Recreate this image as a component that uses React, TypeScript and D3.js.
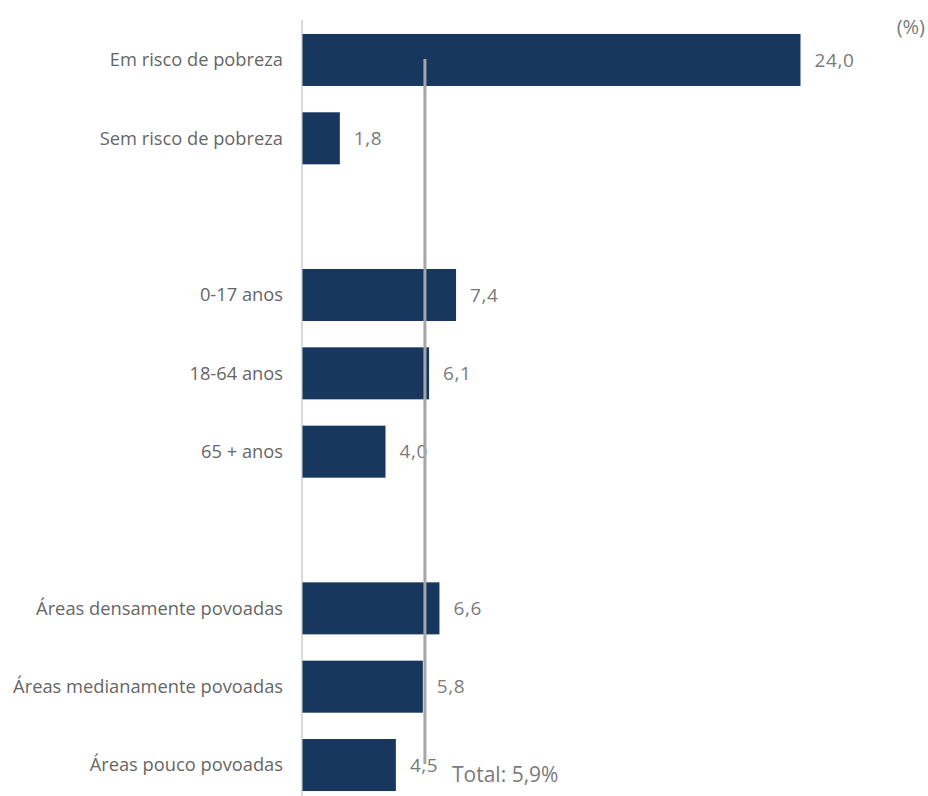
import React from "react";
import * as d3 from "d3";

const categories: string[] = [
  "Em risco de pobreza",
  "Sem risco de pobreza",
  "",
  "0-17 anos",
  "18-64 anos",
  "65 + anos",
  " ",
  "Áreas densamente povoadas",
  "Áreas medianamente povoadas",
  "Áreas pouco povoadas",
];
const values: (number | null)[] = [24.0, 1.8, null, 7.4, 6.1, 4.0, null, 6.6, 5.8, 4.5];
const totalValue = 5.9;
const unitLabel = "(%)";

const W = 928;
const H = 796;
const FONT = "'Open Sans', Lato, sans-serif";

const fmt = (v: number) => v.toFixed(1).replace(".", ",");

export default function App() {
  const x = d3.scaleLinear().domain([0, 24]).range([302.5, 800.5]);
  const keys = categories.map((c, i) => `${i}`);
  const y = d3
    .scaleBand<string>()
    .domain(keys)
    .range([20.8, 804.2])
    .paddingInner(0.336)
    .paddingOuter(0.168);
  const bh = y.bandwidth();
  const xt = x(totalValue);

  return (
    <svg
      width={W}
      height={H}
      style={{ position: "absolute", left: 0, top: 0, display: "block" }}
      fontFamily={FONT}
    >
      <rect width={W} height={H} fill="#fff" />
      <line x1={302} x2={302} y1={20} y2={796} stroke="#d9d9d9" strokeWidth={2} />
      {values.map((v, i) =>
        v == null ? null : (
          <rect
            key={"b" + i}
            x={x(0)}
            y={y(keys[i])!}
            width={x(v) - x(0)}
            height={bh}
            fill="#17375e"
          />
        )
      )}
      {categories.map((c, i) =>
        values[i] == null ? null : (
          <text
            key={"c" + i}
            x={283}
            y={y(keys[i])! + bh / 2}
            dy="0.35em"
            textAnchor="end"
            fontSize={18.3}
            fill="#666"
          >
            {c}
          </text>
        )
      )}
      {values.map((v, i) =>
        v == null ? null : (
          <text
            key={"v" + i}
            x={x(v) + 14}
            y={y(keys[i])! + bh / 2}
            dy="0.35em"
            fontSize={19}
            letterSpacing={0.6}
            fill="#7a7a7a"
          >
            {fmt(v)}
          </text>
        )
      )}
      <line x1={xt} x2={xt} y1={59} y2={764} stroke="#a6a6a6" strokeWidth={3} />
      <text x={452} y={782} fontSize={21} fill="#7a7a7a">
        {`Total: ${fmt(totalValue)}%`}
      </text>
      <text x={925} y={34} textAnchor="end" fontSize={20} fill="#7a7a7a">
        {unitLabel}
      </text>
    </svg>
  );
}
